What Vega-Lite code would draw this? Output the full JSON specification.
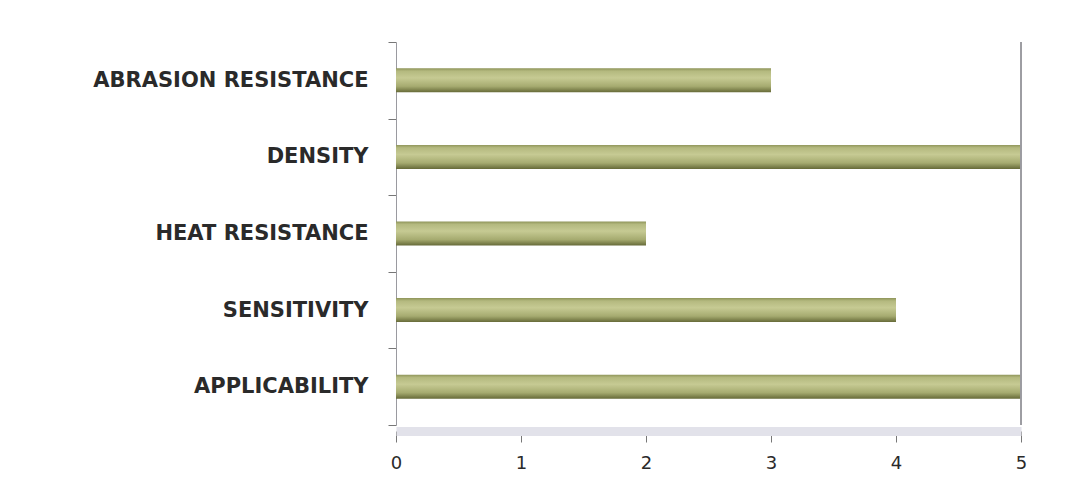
{
  "$schema": "https://vega.github.io/schema/vega-lite/v6.json",
  "autosize": "none",
  "width": 625,
  "height": 383,
  "padding": {"left": 396, "top": 42, "right": 47, "bottom": 63},
  "background": "white",
  "config": {"view": {"stroke": null}},
  "data": {
    "values": [
      {"attribute": "ABRASION RESISTANCE", "score": 3},
      {"attribute": "DENSITY", "score": 5},
      {"attribute": "HEAT RESISTANCE", "score": 2},
      {"attribute": "SENSITIVITY", "score": 4},
      {"attribute": "APPLICABILITY", "score": 5}
    ]
  },
  "layer": [
    {
      "mark": {
        "type": "bar",
        "size": 24,
        "fill": {
          "gradient": "linear",
          "x1": 0, "y1": 0, "x2": 0, "y2": 1,
          "stops": [
            {"offset": 0, "color": "#8f955a"},
            {"offset": 0.12, "color": "#b4b97f"},
            {"offset": 0.4, "color": "#c6ca93"},
            {"offset": 0.75, "color": "#a6ab70"},
            {"offset": 1, "color": "#666a38"}
          ]
        }
      },
      "encoding": {
        "y": {
          "field": "attribute",
          "type": "nominal",
          "sort": null,
          "title": null,
          "scale": {"paddingInner": 0, "paddingOuter": 0},
          "axis": {
            "domainColor": "#9a9aa0",
            "tickColor": "#777",
            "tickSize": 8,
            "tickBand": "extent",
            "labelPadding": 20,
            "labelFont": "DejaVu Sans",
            "labelFontWeight": "bold",
            "labelFontSize": 21,
            "labelColor": "#2a2a2a",
            "labelLimit": 400
          }
        },
        "x": {
          "field": "score",
          "type": "quantitative",
          "title": null,
          "scale": {"domain": [0, 5], "nice": false},
          "axis": {
            "values": [0, 1, 2, 3, 4, 5],
            "format": "d",
            "grid": false,
            "labelFlush": false,
            "offset": 6,
            "domainColor": "#e2e2ea",
            "domainWidth": 9,
            "tickColor": "#777",
            "tickSize": 11,
            "labelPadding": 12,
            "labelFont": "DejaVu Sans",
            "labelFontSize": 18,
            "labelColor": "#2a2a2a"
          }
        }
      }
    },
    {
      "mark": {"type": "rule", "color": "#9a9aa0", "strokeWidth": 1},
      "encoding": {"x": {"datum": 5}}
    }
  ]
}
